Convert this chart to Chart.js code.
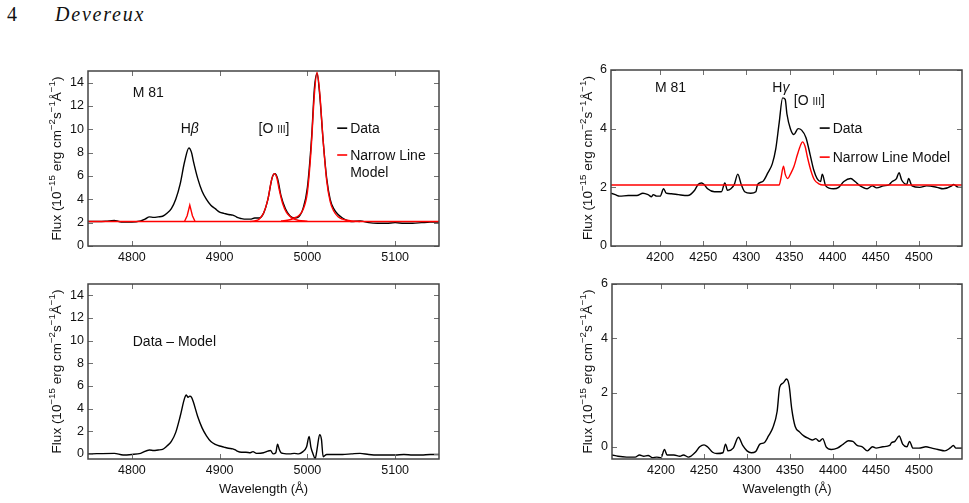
<!DOCTYPE html>
<html><head><meta charset="utf-8">
<script src="https://cdn.jsdelivr.net/npm/chart.js@4/dist/chart.umd.min.js"></script>
<style>
body{margin:0;background:#fff;width:969px;height:503px;position:relative;overflow:hidden}
canvas{position:absolute}
.hdr{position:absolute;font-family:'Liberation Serif','DejaVu Serif',serif;font-size:20px;top:3px;color:#111}
</style></head><body>
<div class="hdr" style="left:7px">4</div><div class="hdr" style="left:55px;font-style:italic;letter-spacing:1.8px">Devereux</div>
<canvas id="tl" width="484" height="215" style="left:0;top:50px"></canvas>
<canvas id="bl" width="484" height="238" style="left:0;top:265px"></canvas>
<canvas id="tr" width="485" height="215" style="left:484px;top:50px"></canvas>
<canvas id="br" width="485" height="238" style="left:484px;top:265px"></canvas>
<script>
// ---------------- DATA ----------------
// H-beta / [O III] region: observed spectrum
const hbWave = [4750,4760,4770,4780,4785,4790,4800,4810,4815,4820,4825,4830,4835,4840,4845,4850,4855,4860,4865,4868,4870,4875,4880,4885,4890,4895,4900,4905,4910,4915,4918,4920,4925,4930,4935,4940,4945,4950,4955,4960,4963,4966,4970,4975,4980,4985,4990,4995,5000,5005,5008,5011,5014,5018,5022,5026,5030,5035,5040,5045,5050,5060,5070,5080,5090,5100,5110,5120,5130,5140,5150];
const hbFlux = [2.1,2.1,2.12,2.2,2.1,2.05,2.05,2.15,2.3,2.5,2.45,2.5,2.55,2.8,3.2,4.0,5.3,7.2,8.4,8.0,7.3,5.8,4.7,4.0,3.5,3.2,2.9,2.8,2.7,2.65,2.55,2.45,2.35,2.3,2.3,2.4,2.4,2.8,4.0,5.9,6.2,5.8,4.3,3.2,2.6,2.4,2.5,3.2,5.0,9.5,13.5,14.8,13.0,9.0,5.8,4.0,3.2,2.7,2.4,2.2,2.1,2.15,2.0,1.95,1.95,2.0,1.95,1.95,2.0,2.05,2.05];
// narrow line model components (each on the continuum)
const hbContWave = [4750,5150];
const hbContFlux = [2.1,2.1];
const hbNarrowWave = [4860,4863,4866,4869,4872];
const hbNarrowFlux = [2.1,2.6,3.5,2.6,2.1];
const o4959Wave = [4935,4940,4945,4950,4955,4959,4962,4965,4968,4972,4976,4980,4985,4990,5000];
const o4959Flux = [2.1,2.15,2.3,2.8,4.0,5.6,6.2,5.9,4.8,3.6,2.9,2.55,2.3,2.2,2.12];
const o5007Wave = [4970,4980,4985,4990,4995,5000,5004,5008,5011,5014,5018,5022,5026,5030,5035,5040,5050,5060];
const o5007Flux = [2.15,2.25,2.4,2.6,3.1,4.6,8.0,13.0,14.9,13.2,9.0,5.6,3.8,3.0,2.5,2.3,2.15,2.1];
// residual (data - model), H-beta region
const hbResWave = [4750,4780,4790,4800,4810,4820,4825,4830,4835,4840,4845,4850,4855,4860,4862,4864,4866,4868,4870,4875,4880,4885,4890,4895,4900,4905,4910,4915,4918,4920,4925,4930,4935,4938,4942,4950,4955,4958,4961,4964,4966,4968,4970,4972,4980,4985,4990,4995,4999,5002,5004,5006,5009,5011,5014,5016,5018,5022,5030,5040,5050,5060,5070,5080,5090,5100,5110,5120,5130,5140,5150];
const hbResFlux = [0.0,0.05,-0.1,-0.05,0.05,0.35,0.3,0.35,0.4,0.7,1.1,1.9,3.3,4.9,5.2,5.0,5.1,5.0,4.6,3.3,2.3,1.6,1.1,0.85,0.7,0.6,0.5,0.45,0.35,0.25,0.15,0.15,0.1,0.2,0.05,0.1,0.25,0.3,0.0,0.1,0.85,0.4,0.1,0.05,0.0,0.05,0.0,0.2,0.6,1.55,0.6,0.1,-0.4,0.4,1.7,1.3,-0.25,-0.05,-0.05,-0.05,0.0,0.05,-0.05,-0.1,-0.1,-0.1,-0.05,-0.1,-0.1,-0.05,-0.05];
// H-gamma region: observed spectrum
const hgWave = [4143,4148,4153,4163,4173,4180,4186,4190,4192,4196,4200,4204,4207,4213,4221,4232,4240,4244,4248,4251,4255,4263,4271,4275,4278,4282,4286,4290,4294,4298,4305,4311,4313,4319,4325,4330,4334,4338,4342,4345,4347,4351,4355,4360,4364,4369,4374,4378,4382,4386,4388,4392,4401,4407,4413,4421,4426,4432,4440,4446,4451,4459,4465,4469,4474,4477,4480,4486,4488,4492,4501,4509,4521,4528,4538,4540,4546,4550];
const hgFlux = [1.8,1.75,1.7,1.72,1.72,1.8,1.75,1.68,1.75,1.7,1.7,1.95,1.8,1.78,1.75,1.72,1.9,2.1,2.15,2.1,1.95,1.85,1.85,2.15,1.9,1.95,2.1,2.45,2.1,1.85,1.8,1.85,2.1,2.2,2.5,2.8,3.3,4.2,5.05,5.0,4.5,4.0,3.8,4.0,3.95,3.7,3.1,2.6,2.3,2.2,2.45,2.05,1.95,2.0,2.2,2.3,2.2,2.05,1.95,2.05,1.98,2.05,2.08,2.2,2.3,2.5,2.25,2.1,2.3,2.05,2.0,2.05,2.0,1.95,2.05,2.1,2.0,2.0];
// narrow line model (H-gamma + [O III] 4363 on continuum)
const hgModelWave = [4143,4338,4340,4343,4345,4348,4351,4355,4359,4363,4365,4368,4371,4375,4379,4384,4389,4550];
const hgModelFlux = [2.08,2.08,2.3,2.72,2.45,2.3,2.45,2.7,3.1,3.45,3.55,3.4,3.0,2.55,2.25,2.12,2.08,2.08];
// residual (data - model), H-gamma region
const hgResWave = [4143,4150,4160,4170,4175,4180,4185,4190,4195,4200,4204,4207,4215,4222,4226,4232,4240,4245,4250,4254,4260,4265,4272,4275,4278,4284,4290,4295,4300,4305,4310,4315,4320,4325,4330,4335,4338,4342,4346,4349,4352,4356,4361,4366,4372,4376,4380,4384,4388,4392,4398,4405,4412,4418,4423,4428,4434,4440,4446,4450,4458,4466,4468,4472,4477,4481,4486,4489,4493,4500,4508,4515,4522,4530,4536,4540,4543,4550];
const hgResFlux = [-0.3,-0.35,-0.38,-0.38,-0.3,-0.35,-0.32,-0.4,-0.38,-0.4,-0.1,-0.3,-0.3,-0.35,-0.3,-0.38,-0.2,0.0,0.07,0.0,-0.2,-0.25,-0.22,0.1,-0.15,-0.05,0.35,0.05,-0.15,-0.22,-0.18,0.1,0.15,0.4,0.7,1.3,2.2,2.35,2.5,2.25,1.4,0.75,0.55,0.4,0.3,0.25,0.3,0.2,0.3,0.0,-0.1,-0.05,0.1,0.22,0.2,0.05,0.0,-0.15,0.0,-0.05,0.0,0.05,0.15,0.2,0.4,0.1,0.0,0.2,-0.05,-0.05,0.0,-0.05,-0.1,-0.15,-0.05,0.05,-0.05,-0.05];
// ticks
const xTicksBeta = [4800,4900,5000,5100];
const yTicksBeta = [0,2,4,6,8,10,12,14];
const xTicksGamma = [4200,4250,4300,4350,4400,4450,4500];
const yTicksGamma = [0,2,4,6];
// ---------------- RENDERING ----------------
const FONT = '"Liberation Sans", Arial, Helvetica, sans-serif';
const zip = (a,b) => a.map((v,i)=>({x:v,y:b[i]}));
const yTitle = [{t:'Flux (10'},{t:'\u221215',sup:1},{t:' erg cm'},{t:'\u22122',sup:1},{t:'s'},{t:'\u22121',sup:1},{t:'\u00c5'},{t:'\u22121',sup:1},{t:')'}];
const xTitle = [{t:'Wavelength (\u00c5)'}];

function segFont(s,size){
  const sz = (s.sup||s.small) ? size*0.72 : size;
  return {font:(s.it?'italic ':'')+sz+'px '+FONT, dy: s.sup ? -size*0.42 : 0};
}
function drawSegs(ctx,segs,px,py,size,align){
  let total=0;
  const w = segs.map(s=>{ctx.font=segFont(s,size).font; const m=ctx.measureText(s.t).width; total+=m; return m;});
  let cx = align==='center' ? px-total/2 : px;
  segs.forEach((s,i)=>{const f=segFont(s,size); ctx.font=f.font; ctx.fillText(s.t,cx,py+f.dy); cx+=w[i];});
}

const decor = {
  id:'decor',
  afterDatasetsDraw(chart){
    const o = chart.options.plugins.decor;
    const {ctx, chartArea:a, scales:{x,y}} = chart;
    ctx.save();
    ctx.strokeStyle='#707070'; ctx.lineWidth=1;
    ctx.beginPath();
    x.ticks.forEach(t=>{const p=Math.round(x.getPixelForValue(t.value))+0.5; ctx.moveTo(p,a.bottom); ctx.lineTo(p,a.bottom-5); ctx.moveTo(p,a.top); ctx.lineTo(p,a.top+5);});
    y.ticks.forEach(t=>{const p=Math.round(y.getPixelForValue(t.value))+0.5; ctx.moveTo(a.left,p); ctx.lineTo(a.left+5,p); ctx.moveTo(a.right,p); ctx.lineTo(a.right-5,p);});
    ctx.stroke();
    ctx.strokeStyle='#444'; ctx.lineWidth=1.5;
    ctx.strokeRect(a.left,a.top,a.right-a.left,a.bottom-a.top);
    ctx.fillStyle='#111'; ctx.textBaseline='alphabetic';
    (o.texts||[]).forEach(t=>{
      const px=x.getPixelForValue(t.x), py=y.getPixelForValue(t.y);
      drawSegs(ctx,t.segs,px,py+0.36*14,14,t.align||'left');
    });
    (o.legend||[]).forEach(l=>{
      const px=x.getPixelForValue(l.x), py=y.getPixelForValue(l.y);
      const ds = chart.data.datasets[l.ds];
      ctx.strokeStyle=ds.borderColor; ctx.lineWidth=1.6;
      ctx.beginPath(); ctx.moveTo(px,py); ctx.lineTo(px+10,py); ctx.stroke();
      ctx.fillStyle='#111';
      const lines = l.lines || [ds.label];
      lines.forEach((s,i)=>drawSegs(ctx,[{t:s}],px+13,py+0.36*14+i*16.5,14,'left'));
    });
    // axis titles
    ctx.fillStyle='#111';
    ctx.save();
    ctx.translate(o.yTitleX,(a.top+a.bottom)/2);
    ctx.rotate(-Math.PI/2);
    drawSegs(ctx,yTitle,0,0.36*13.5,13.5,'center');
    ctx.restore();
    if(o.xTitleY){ drawSegs(ctx,xTitle,(a.left+a.right)/2,o.xTitleY+0.36*13,13,'center'); }
    ctx.restore();
  }
};

function makeChart(id,cfg){
  const cv=document.getElementById(id);
  const W=cv.width,H=cv.height,p=cfg.plot;
  return new Chart(cv,{
    type:'line',
    data:{datasets:cfg.datasets.map(d=>Object.assign({pointRadius:0,borderWidth:1.4,fill:false,cubicInterpolationMode:'monotone',order:d.borderColor==='#000'?2:1},d))},
    options:{
      responsive:false,animation:false,devicePixelRatio:1,
      layout:{padding:{left:0,top:p.t,right:W-p.r,bottom:0}},
      plugins:{legend:{display:false},tooltip:{enabled:false},
        decor:{texts:cfg.texts,legend:cfg.legend,yTitleX:cfg.yTitleX,xTitleY:cfg.xTitleY}},
      scales:{
        x:{type:'linear',min:cfg.xMin,max:cfg.xMax,grid:{display:false,drawTicks:false,tickLength:0},border:{display:false},
           ticks:{color:'#111',font:{family:FONT,size:12.5},padding:4,maxRotation:0,callback:v=>String(v)},
           afterBuildTicks:s=>{s.ticks=cfg.xTicks.map(v=>({value:v}));},
           afterFit:s=>{s.height=H-p.b;}},
        y:{type:'linear',min:cfg.yMin,max:cfg.yMax,grid:{display:false,drawTicks:false,tickLength:0},border:{display:false},
           ticks:{color:'#111',font:{family:FONT,size:12.5},padding:4,callback:v=>String(v)},
           afterBuildTicks:s=>{s.ticks=cfg.yTicks.map(v=>({value:v}));},
           afterFit:s=>{s.width=p.l;}}
      }
    },
    plugins:[decor]
  });
}

const BLACK='#000', RED='#ff0000';
makeChart('tl',{
  xMin:4750,xMax:5150,yMin:0,yMax:15,xTicks:xTicksBeta,yTicks:yTicksBeta,
  plot:{l:88,r:439,t:21,b:196},yTitleX:56,
  datasets:[
    {label:'Data',data:zip(hbWave,hbFlux),borderColor:BLACK},
    {label:'Narrow Line Model',data:zip(hbContWave,hbContFlux),borderColor:RED},
    {label:'Narrow Line Model',data:zip(hbNarrowWave,hbNarrowFlux),borderColor:RED,cubicInterpolationMode:'default',tension:0},
    {label:'Narrow Line Model',data:zip(o4959Wave,o4959Flux),borderColor:RED},
    {label:'Narrow Line Model',data:zip(o5007Wave,o5007Flux),borderColor:RED}
  ],
  texts:[
    {x:4801,y:13.2,segs:[{t:'M 81'}]},
    {x:4866,y:10.1,segs:[{t:'H'},{t:'\u03b2',it:1}],align:'center'},
    {x:4962,y:10.1,segs:[{t:'[O '},{t:'III',small:1},{t:']'}],align:'center'}
  ],
  legend:[{ds:0,x:5034,y:10.1},{ds:1,x:5034,y:7.8,lines:['Narrow Line','Model']}]
});
makeChart('bl',{
  xMin:4750,xMax:5150,yMin:-0.45,yMax:15,xTicks:xTicksBeta,yTicks:yTicksBeta,
  plot:{l:88,r:439,t:19,b:194},yTitleX:56,xTitleY:223,
  datasets:[{label:'Data \u2212 Model',data:zip(hbResWave,hbResFlux),borderColor:BLACK}],
  texts:[{x:4801,y:10.0,segs:[{t:'Data \u2013 Model'}]}]
});
makeChart('tr',{
  xMin:4143,xMax:4550,yMin:0,yMax:6,xTicks:xTicksGamma,yTicks:yTicksGamma,
  plot:{l:127,r:478,t:20,b:196},yTitleX:103,
  datasets:[
    {label:'Data',data:zip(hgWave,hgFlux),borderColor:BLACK},
    {label:'Narrow Line Model',data:zip(hgModelWave,hgModelFlux),borderColor:RED}
  ],
  texts:[
    {x:4194,y:5.42,segs:[{t:'M 81'}]},
    {x:4340,y:5.42,segs:[{t:'H'},{t:'\u03b3',it:1}],align:'center'},
    {x:4373,y:4.98,segs:[{t:'[O '},{t:'III',small:1},{t:']'}],align:'center'}
  ],
  legend:[{ds:0,x:4385,y:4.02},{ds:1,x:4385,y:3.03}]
});
makeChart('br',{
  xMin:4143,xMax:4550,yMin:-0.45,yMax:6,xTicks:xTicksGamma,yTicks:yTicksGamma,
  plot:{l:128,r:478,t:19,b:194},yTitleX:103,xTitleY:223,
  datasets:[{label:'Data \u2212 Model',data:zip(hgResWave,hgResFlux),borderColor:BLACK}]
});
</script>
</body></html>
